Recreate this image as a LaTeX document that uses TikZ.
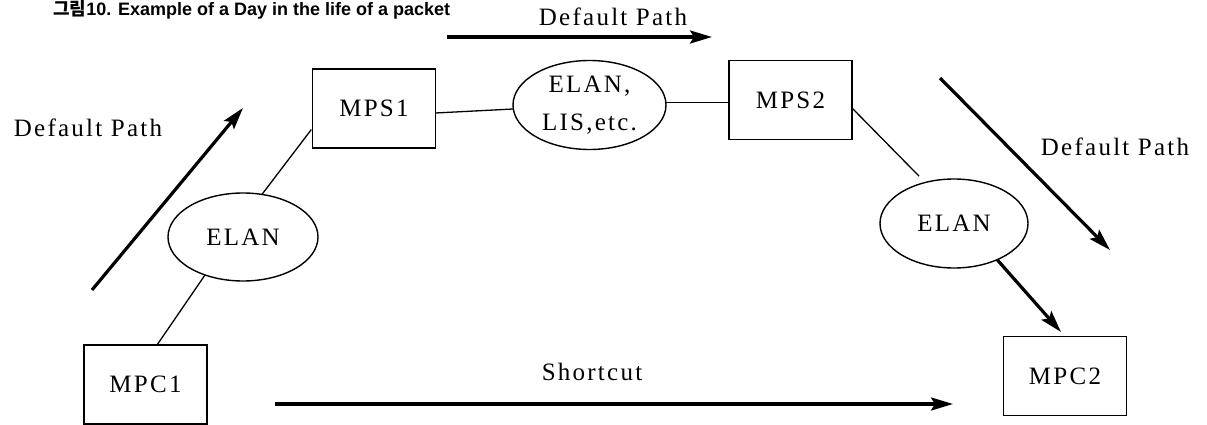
\documentclass[tikz,border=0pt]{standalone}
\usepackage{fontspec}
\setmainfont{Liberation Serif}
\newfontfamily\labelfont[LetterSpace=9]{Liberation Serif}
\newfontfamily\titlefont{Liberation Sans}
\newfontfamily\krfont{Noto Sans CJK KR}
\usetikzlibrary{arrows.meta,calc,shapes.geometric}

\begin{document}
\begin{tikzpicture}[x=1pt,y=-1pt,
  txt/.style={font=\labelfont\fontsize{25}{38}\selectfont},
  box/.style={draw,txt,line width=1.4pt,minimum width=123pt,minimum height=79pt,
    inner sep=0pt,outer sep=0pt},
  net/.style={draw,ellipse,txt,line width=1.4pt,inner sep=0pt,outer sep=0pt,align=center},
  link/.style={line width=1.3pt},
  flow/.style={line width=3.2pt,-{Stealth[length=22pt,width=13pt,inset=4pt]}},
  lbl/.style={txt,inner sep=0pt}]
\useasboundingbox (0,0) rectangle (1207,425);

% caption
\node[anchor=base west,inner sep=0pt,font=\titlefont\bfseries\fontsize{18}{20}\selectfont]
  (title) at (53,16) {{\krfont\bfseries 그림}10. Example of a Day in the life of a packet};

% servers and clients
\node[box] (mps1) at (374,108.5) {MPS1};
\node[box] (mps2) at (790.5,100) {MPS2};
\node[box] (mpc1) at (145.5,384.5) {MPC1};
\node[box] (mpc2) at (1065,376) {MPC2};

% networks
\node[net,minimum width=153pt,minimum height=89pt] (core) at (589.5,105) {ELAN,\\LIS,etc.};
\node[net,minimum width=150pt,minimum height=88pt] (elanL) at (243,237) {ELAN};
\node[net,minimum width=148pt,minimum height=89pt] (elanR) at (954,223.5) {ELAN};

% physical links
\draw[link] ([xshift=11.5pt]mpc1.north) -- (elanL.225);
\draw[link,shorten <=2pt] ([yshift=-19.5pt]mps1.west) -- (elanL.66);
\draw[link] ([yshift=-4.5pt]mps1.east) -- (core.183);
\draw[link] (core.2) -- (core.2 -| mps2.west);
\draw[link,shorten >=9pt] ([yshift=-8pt]mps2.east) -- (elanR.125);

% default path
\coordinate (lA) at (92,290);  \coordinate (lB) at (243,108);
\coordinate (tA) at (447,37);  \coordinate (tB) at (712,37);
\coordinate (rA) at (940,78);  \coordinate (rB) at (1110,250);
\draw[flow] (lA) -- (lB);
\draw[flow] (tA) -- (tB);
\draw[flow] (rA) -- (rB);
\draw[flow,shorten >=6pt] (elanR.-40) -- (mpc2.north);

% shortcut
\coordinate (sA) at (275,404); \coordinate (sB) at (953,404);
\draw[flow] (sA) -- (sB);

% labels
\node[lbl] (dpTop) at (613,17) {Default Path};
\node[lbl] (dpLeft) at (88,128) {Default Path};
\node[lbl] (dpRight) at (1115,147) {Default Path};
\node[lbl] (scut) at (592,372) {Shortcut};
\end{tikzpicture}
\end{document}
